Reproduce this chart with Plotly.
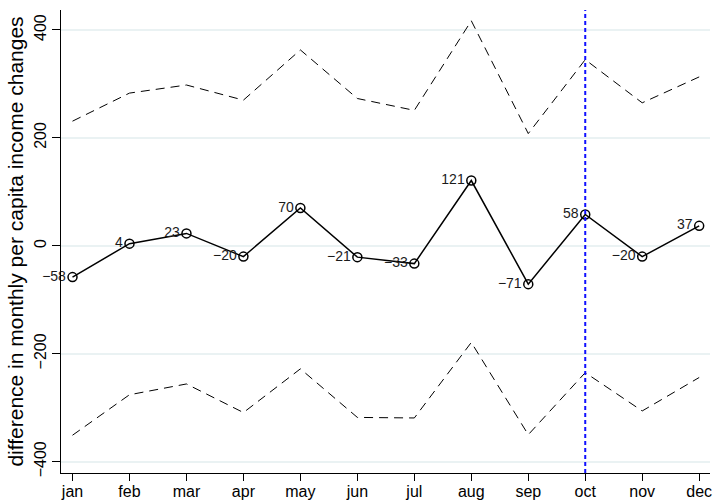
import plotly.graph_objects as go

months = ["jan", "feb", "mar", "apr", "may", "jun", "jul", "aug", "sep", "oct", "nov", "dec"]
month_num = list(range(1, 13))
diff = [-58, 4, 23, -20, 70, -21, -33, 121, -71, 58, -20, 37]
upper = [231, 283, 298, 270, 363, 273, 251, 417, 208, 345, 265, 313]
lower = [-351, -276, -256, -309, -228, -318, -319, -179, -350, -235, -306, -244]
y_ticks = [-400, -200, 0, 200, 400]
y_ticklabels = ["−400", "−200", "0", "200", "400"]
diff_labels = [str(v).replace("-", "−") for v in diff]
marker_month = 10

fig = go.Figure()

fig.add_trace(go.Scatter(x=month_num, y=upper, mode="lines",
                         line=dict(color="black", width=1, dash="9px,6px"),
                         showlegend=False, hoverinfo="skip"))
fig.add_trace(go.Scatter(x=month_num, y=lower, mode="lines",
                         line=dict(color="black", width=1, dash="9px,6px"),
                         showlegend=False, hoverinfo="skip"))
fig.add_trace(go.Scatter(x=month_num, y=diff, mode="lines+markers+text",
                         line=dict(color="black", width=1.5),
                         marker=dict(symbol="circle-open", size=9, color="black",
                                     line=dict(width=1.5, color="black")),
                         text=diff_labels, textposition="middle left",
                         textfont=dict(size=14, color="#1a1a1a", family="Liberation Sans, Arial"),
                         cliponaxis=False,
                         showlegend=False))

# zero reference line
fig.add_hline(y=0, line=dict(color="#808080", width=1, dash="12px,8px"), layer="below")
# vertical reference line at oct
fig.add_vline(x=marker_month, line=dict(color="#1010ff", width=2, dash="4px,3px"))

fig.update_layout(
    width=713, height=502,
    margin=dict(l=61, r=3, t=10, b=29),
    paper_bgcolor="white", plot_bgcolor="white",
    font=dict(family="Liberation Sans, Arial", size=16, color="black"),
    xaxis=dict(
        range=[0.798, 12.19], tickmode="array", tickvals=month_num, ticktext=months,
        showgrid=False, zeroline=False, showline=True, linecolor="black", linewidth=1,
        ticks="outside", ticklen=7, tickcolor="black", tickfont=dict(size=16),
        ticklabelstandoff=-3,
        automargin=False,
    ),
    yaxis=dict(
        range=[-421, 437], tickmode="array", tickvals=y_ticks, ticktext=y_ticklabels,
        tickangle=-90, showgrid=True, gridcolor="#eaf2f3", gridwidth=1.5,
        zeroline=False, showline=True, linecolor="black", linewidth=1,
        ticks="outside", ticklen=8, tickcolor="black", tickfont=dict(size=16),
        automargin=False,
        title=dict(text="difference in monthly per capita income changes",
                   font=dict(size=21), standoff=2),
    ),
)

fig.write_html("out.html", config={"displayModeBar": False},
               post_script="document.body.style.margin='0px';")
